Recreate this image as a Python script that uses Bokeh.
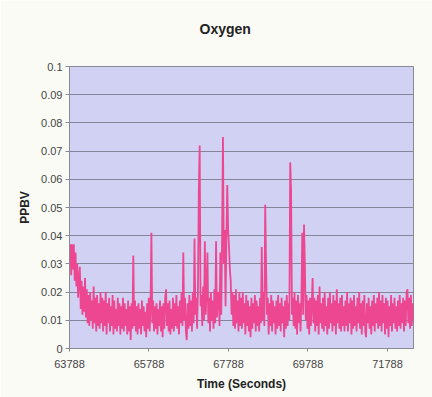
import numpy as np
from bokeh.plotting import figure
from bokeh.models import Range1d, FixedTicker, CustomJSTickFormatter, Title
from bokeh.embed import file_html
from bokeh.resources import INLINE

title_text = "Oxygen"
x_title = "Time (Seconds)"
y_title = "PPBV"
x_ticks = [63788, 65788, 67788, 69788, 71788]
y_ticks = [0, 0.01, 0.02, 0.03, 0.04, 0.05, 0.06, 0.07, 0.08, 0.09, 0.1]

time_start = 63788
sample_interval = 21.69

ppbv = [
    0.030, 0.037, 0.026, 0.037, 0.028, 0.037, 0.024, 0.034, 0.022, 0.030, 0.018, 0.025, 0.029, 0.014, 0.024, 0.012, 0.022, 0.013, 0.025, 0.011,
    0.021, 0.009, 0.019, 0.008, 0.020, 0.010, 0.017, 0.007, 0.022, 0.009, 0.018, 0.006, 0.019, 0.008, 0.016, 0.007, 0.020, 0.009, 0.018, 0.006,
    0.017, 0.008, 0.020, 0.005, 0.016, 0.009, 0.018, 0.006, 0.015, 0.008, 0.019, 0.005, 0.017, 0.007, 0.014, 0.006, 0.018, 0.008, 0.016, 0.005,
    0.015, 0.007, 0.018, 0.006, 0.016, 0.008, 0.014, 0.005, 0.017, 0.006, 0.015, 0.003, 0.016, 0.007, 0.033, 0.008, 0.017, 0.006, 0.015, 0.005,
    0.016, 0.007, 0.014, 0.005, 0.017, 0.008, 0.015, 0.006, 0.013, 0.004, 0.016, 0.007, 0.018, 0.006, 0.015, 0.041, 0.009, 0.017, 0.006, 0.015,
    0.007, 0.016, 0.005, 0.014, 0.008, 0.017, 0.006, 0.015, 0.004, 0.016, 0.007, 0.018, 0.021, 0.008, 0.016, 0.006, 0.017, 0.005, 0.014, 0.007,
    0.018, 0.006, 0.016, 0.008, 0.019, 0.007, 0.015, 0.005, 0.017, 0.009, 0.020, 0.008, 0.034, 0.010, 0.018, 0.006, 0.003, 0.016, 0.007, 0.019,
    0.008, 0.017, 0.006, 0.020, 0.009, 0.039, 0.012, 0.018, 0.007, 0.021, 0.056, 0.072, 0.015, 0.019, 0.008, 0.022, 0.010, 0.038, 0.012, 0.020,
    0.034, 0.009, 0.018, 0.006, 0.020, 0.010, 0.017, 0.007, 0.021, 0.009, 0.038, 0.011, 0.019, 0.020, 0.008, 0.034, 0.012, 0.040, 0.075, 0.030,
    0.042, 0.015, 0.040, 0.058, 0.042, 0.036, 0.028, 0.024, 0.012, 0.020, 0.008, 0.019, 0.007, 0.021, 0.009, 0.017, 0.006, 0.020, 0.008, 0.018,
    0.007, 0.020, 0.009, 0.016, 0.005, 0.019, 0.008, 0.017, 0.006, 0.015, 0.004, 0.018, 0.007, 0.016, 0.009, 0.019, 0.006, 0.017, 0.008, 0.015,
    0.006, 0.018, 0.009, 0.036, 0.010, 0.020, 0.008, 0.051, 0.030, 0.012, 0.018, 0.005, 0.016, 0.008, 0.019, 0.006, 0.017, 0.009, 0.015, 0.005,
    0.017, 0.007, 0.019, 0.008, 0.016, 0.006, 0.018, 0.009, 0.015, 0.004, 0.017, 0.007, 0.019, 0.008, 0.016, 0.010, 0.066, 0.056, 0.012, 0.018,
    0.008, 0.020, 0.007, 0.017, 0.005, 0.019, 0.009, 0.016, 0.006, 0.018, 0.041, 0.012, 0.044, 0.030, 0.010, 0.019, 0.007, 0.017, 0.005, 0.018,
    0.008, 0.016, 0.025, 0.009, 0.018, 0.006, 0.017, 0.008, 0.019, 0.005, 0.022, 0.009, 0.016, 0.007, 0.018, 0.006, 0.020, 0.008, 0.015, 0.005,
    0.018, 0.007, 0.020, 0.009, 0.016, 0.006, 0.019, 0.008, 0.017, 0.005, 0.021, 0.009, 0.016, 0.007, 0.018, 0.006, 0.019, 0.008, 0.015, 0.006,
    0.017, 0.008, 0.020, 0.006, 0.016, 0.009, 0.018, 0.005, 0.017, 0.007, 0.019, 0.008, 0.015, 0.006, 0.018, 0.009, 0.020, 0.007, 0.016, 0.005,
    0.017, 0.008, 0.019, 0.006, 0.004, 0.016, 0.009, 0.018, 0.007, 0.015, 0.005, 0.017, 0.008, 0.019, 0.006, 0.016, 0.009, 0.018, 0.007, 0.020,
    0.008, 0.017, 0.006, 0.019, 0.009, 0.016, 0.005, 0.018, 0.007, 0.017, 0.004, 0.015, 0.008, 0.019, 0.006, 0.016, 0.009, 0.018, 0.007, 0.015,
    0.006, 0.017, 0.008, 0.019, 0.007, 0.016, 0.009, 0.018, 0.006, 0.017, 0.008, 0.020, 0.021, 0.009, 0.018, 0.007, 0.019, 0.008, 0.016, 0.010,
]

times = time_start + np.arange(len(ppbv)) * sample_interval

FONT = "Liberation Sans"
BG = "#FBFBF6"

p = figure(width=432, height=397, output_backend="svg", toolbar_location=None, title=None,
           x_range=Range1d(time_start, times[-1]), y_range=Range1d(0, 0.1),
           min_border_left=69, min_border_right=19, min_border_top=66, min_border_bottom=49)

p.background_fill_color = "#D1D1F4"
p.border_fill_color = BG
p.outline_line_color = "#8A8A96"
p.outline_line_width = 1

p.line(times, ppbv, line_color="#EC4790", line_width=1.8)

spacer = Title(text=" ", text_font=FONT, text_font_size="13px", standoff=10)
p.add_layout(spacer, "above")
main_title = Title(text=title_text, align="left", offset=130, standoff=6,
                   text_font=FONT, text_font_size="14px", text_font_style="bold",
                   text_color="#222222")
p.add_layout(main_title, "above")

p.xaxis.ticker = FixedTicker(ticks=x_ticks)
p.yaxis.ticker = FixedTicker(ticks=y_ticks)
p.yaxis.formatter = CustomJSTickFormatter(code="return String(Number(tick.toFixed(2)));")
p.xaxis.formatter = CustomJSTickFormatter(code="return String(Math.round(tick));")

for ax in (p.xaxis, p.yaxis):
    ax.axis_line_color = "#8A8A96"
    ax.major_tick_line_color = "#8A8A96"
    ax.minor_tick_line_color = None
    ax.major_tick_in = 0
    ax.major_label_text_font = FONT
    ax.major_label_text_font_size = "11px"
    ax.major_label_text_color = "#444444"
    ax.axis_label_text_font = FONT
    ax.axis_label_text_font_size = "12px"
    ax.axis_label_text_font_style = "bold"
    ax.axis_label_text_color = "#222222"

p.xaxis.axis_label = x_title
p.yaxis.axis_label = y_title
p.xaxis.major_tick_out = 3
p.yaxis.major_tick_out = 4
p.xaxis.major_label_standoff = 8
p.yaxis.major_label_standoff = 3
p.xaxis.axis_label_standoff = 6
p.yaxis.axis_label_standoff = 6

p.xgrid.grid_line_color = None
p.ygrid.grid_line_color = "#84849A"
p.ygrid.grid_line_width = 1

open("out.html", "w").write(file_html(p, INLINE))
